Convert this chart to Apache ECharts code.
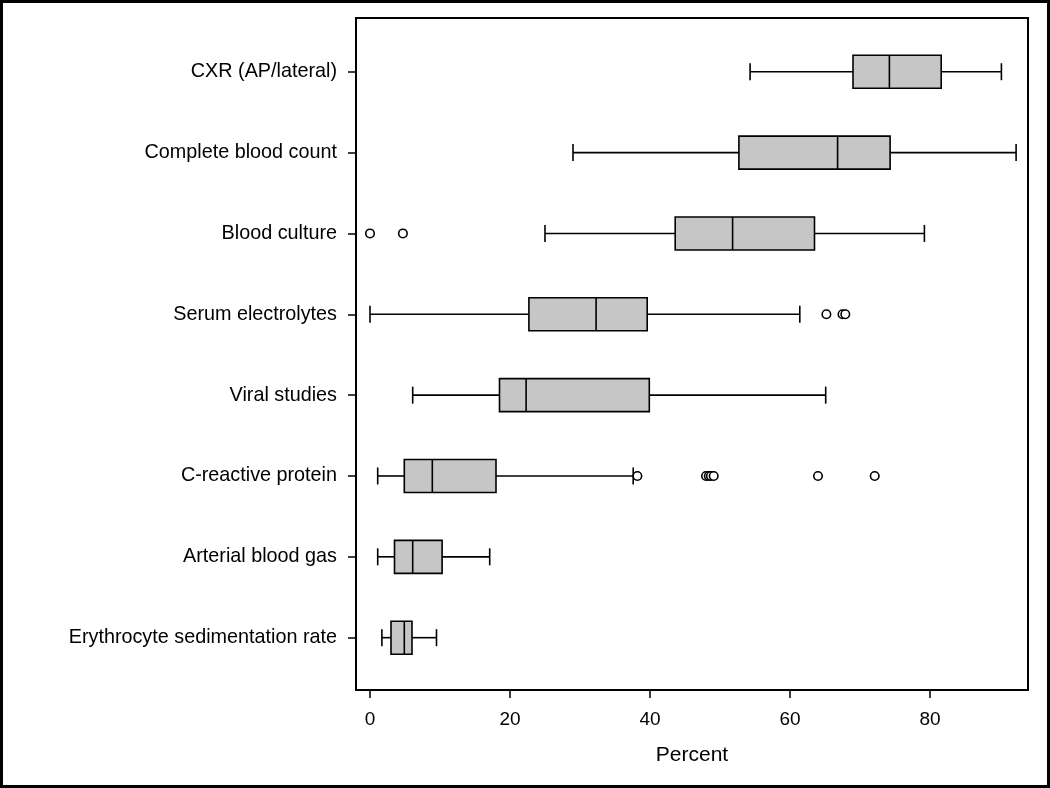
<!DOCTYPE html>
<html>
<head>
<meta charset="utf-8">
<script src="https://cdn.jsdelivr.net/npm/echarts@6/dist/echarts.min.js"></script>
<style>
html,body{margin:0;padding:0;background:#fff;}
#chart{width:1050px;height:788px;}
</style>
</head>
<body>
<div id="chart"></div>
<script>
const categories = ['CXR (AP/lateral)', 'Complete blood count', 'Blood culture', 'Serum electrolytes', 'Viral studies', 'C-reactive protein', 'Arterial blood gas', 'Erythrocyte sedimentation rate'];
const whiskerLow  = [54.3, 29.0, 25.0,  0.0,  6.1,  1.1,  1.1, 1.7];
const q1          = [69.0, 52.7, 43.6, 22.7, 18.5,  4.9,  3.5, 3.0];
const median      = [74.2, 66.8, 51.8, 32.3, 22.3,  8.9,  6.1, 4.9];
const q3          = [81.6, 74.3, 63.5, 39.6, 39.9, 18.0, 10.3, 6.0];
const whiskerHigh = [90.2, 92.3, 79.2, 61.4, 65.1, 37.6, 17.1, 9.5];
const outlierRow   = [2, 2, 3, 3, 3, 5, 5, 5, 5, 5, 5, 5];
const outlierValue = [0.0, 4.7, 65.2, 67.5, 67.9, 38.2, 48.0, 48.4, 48.7, 49.1, 64.0, 72.1];
const xTicks = [0, 20, 40, 60, 80];

const boxData = categories.map((c, i) => [i, whiskerLow[i], q1[i], median[i], q3[i], whiskerHigh[i]]);
const outlierData = outlierRow.map((r, i) => [outlierValue[i], r]);

const FONT = 'Liberation Sans, Arial, sans-serif';
const LW = 1.6;

function renderBox(params, api) {
  const idx = api.value(0);
  const pLo = api.coord([api.value(1), idx]);
  const pQ1 = api.coord([api.value(2), idx]);
  const pMd = api.coord([api.value(3), idx]);
  const pQ3 = api.coord([api.value(4), idx]);
  const pHi = api.coord([api.value(5), idx]);
  const y = pMd[1];
  const half = 16.5, cap = 8.5;
  const ls = {stroke: '#000', lineWidth: LW};
  return {
    type: 'group',
    children: [
      {type: 'line', shape: {x1: pLo[0], y1: y, x2: pQ1[0], y2: y}, style: ls},
      {type: 'line', shape: {x1: pQ3[0], y1: y, x2: pHi[0], y2: y}, style: ls},
      {type: 'line', shape: {x1: pLo[0], y1: y - cap, x2: pLo[0], y2: y + cap}, style: ls},
      {type: 'line', shape: {x1: pHi[0], y1: y - cap, x2: pHi[0], y2: y + cap}, style: ls},
      {type: 'rect', shape: {x: pQ1[0], y: y - half, width: pQ3[0] - pQ1[0], height: 2 * half}, style: {fill: '#c6c6c6', stroke: '#000', lineWidth: LW}},
      {type: 'line', shape: {x1: pMd[0], y1: y - half, x2: pMd[0], y2: y + half}, style: ls}
    ]
  };
}

const chart = echarts.init(document.getElementById('chart'), null, {renderer: 'canvas'});
chart.setOption({
  animation: false,
  backgroundColor: '#fff',
  graphic: [{
    type: 'rect', shape: {x: 1.5, y: 1.5, width: 1047, height: 785},
    style: {fill: 'none', stroke: '#000', lineWidth: 3}, z: 100
  }],
  grid: [
    {left: 356, top: 18, width: 672, height: 672, show: true, borderColor: '#000', borderWidth: 2, backgroundColor: 'transparent'},
    {left: 356, top: 31.3, width: 672, height: 646.8}
  ],
  xAxis: [
    {
      gridIndex: 0, type: 'value', min: -2, max: 94,
      axisLine: {show: false, onZero: false},
      splitLine: {show: false},
      axisTick: {show: true, customValues: xTicks, length: 8, lineStyle: {color: '#000', width: 1.5}},
      axisLabel: {customValues: xTicks, fontSize: 19, color: '#000', fontFamily: FONT, margin: 20},
      name: 'Percent', nameLocation: 'middle', nameGap: 55,
      nameTextStyle: {fontSize: 21, color: '#000', fontFamily: FONT}
    },
    {gridIndex: 1, type: 'value', min: -2, max: 94, show: false, axisLine: {onZero: false}}
  ],
  yAxis: [
    {gridIndex: 0, type: 'value', show: false, axisLine: {onZero: false}},
    {
      gridIndex: 1, type: 'category', inverse: true, data: categories,
      axisLine: {show: false, onZero: false},
      splitLine: {show: false},
      axisTick: {show: true, alignWithLabel: true, length: 8, lineStyle: {color: '#000', width: 1.5}},
      axisLabel: {fontSize: 19.8, color: '#000', fontFamily: FONT, margin: 19}
    }
  ],
  series: [
    {
      type: 'custom', xAxisIndex: 1, yAxisIndex: 1,
      renderItem: renderBox,
      encode: {x: [1, 2, 3, 4, 5], y: 0},
      data: boxData
    },
    {
      type: 'scatter', xAxisIndex: 1, yAxisIndex: 1,
      symbol: 'circle', symbolSize: 8.5,
      itemStyle: {color: '#fff', borderColor: '#000', borderWidth: 1.6, opacity: 1},
      data: outlierData, z: 5
    }
  ]
});
</script>
</body>
</html>
